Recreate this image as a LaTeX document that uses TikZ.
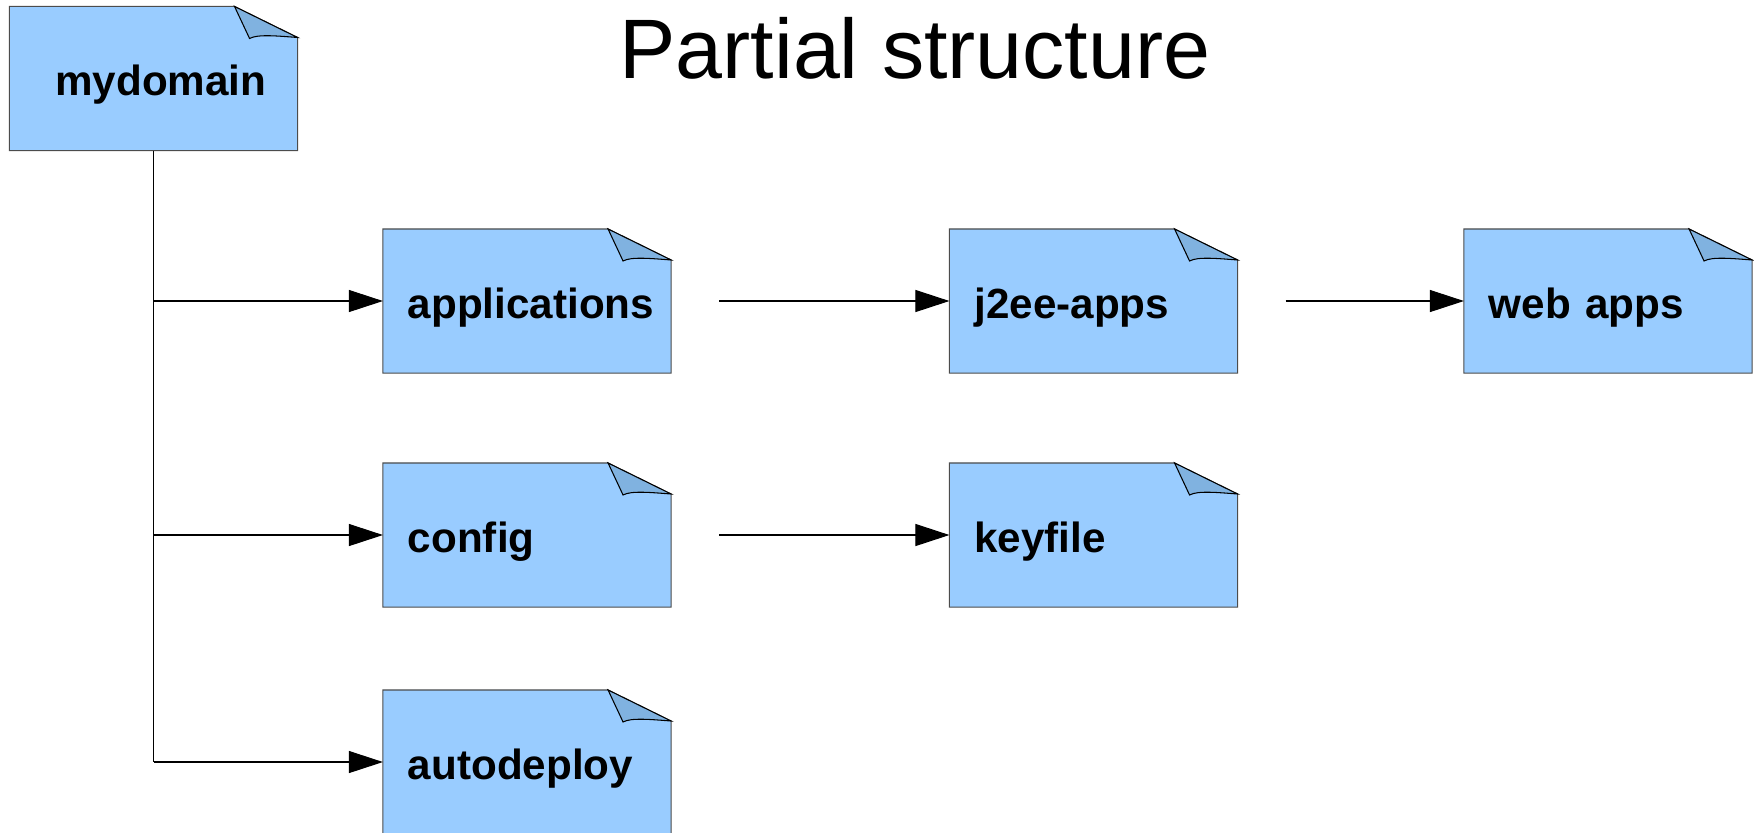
\documentclass[tikz,border=0pt]{standalone}
\usepackage{fontspec}
\setmainfont{Liberation Sans}
\usetikzlibrary{arrows.meta,backgrounds}

\definecolor{boxblue}{RGB}{153,204,255}
\definecolor{foldblue}{RGB}{128,178,224}

\tikzset{
  folder/.style={minimum width=2.88cm, minimum height=1.44cm, outer sep=0pt,
    inner xsep=2.5mm, text width=23.8mm, align=left,
    text height=4.4mm, text depth=1mm, font=\fontsize{12}{14}\selectfont\bfseries},
  link/.style={line width=0.3pt, -{Triangle[length=3.4mm,width=2.2mm]}}
}

\begin{document}
\begin{tikzpicture}[x=0.01cm, y=-0.01cm]
            \useasboundingbox (0,0) rectangle (1754,832);

            \node (title) [anchor=base, font=\fontsize{24}{28}\selectfont] at (915,78) {Partial structure};

            \node (dom) [folder, inner xsep=4.6mm, text width=19.6mm] at (153.5,78.5) {mydomain};
            \node (app) [folder] at (527,301) {applications};
            \node (j2ee) [folder] at (1093.5,301) {j2ee-apps};
            \node (web) [folder] at (1608,301) {web apps};
            \node (cfg) [folder] at (527,535) {config};
            \node (key) [folder] at (1093.5,535) {keyfile};
            \node (auto) [folder] at (527,762) {autodeploy};

            % dog-eared boxes behind the labels
            \begin{scope}[on background layer]
            \foreach \n in {dom,app,j2ee,web,cfg,key,auto} {
                \filldraw[fill=boxblue, draw=black!70, line width=0.3pt]
                (\n.south west) -- (\n.north west) -- ([xshift=-6.3mm]\n.north east)
                -- ([yshift=-3.1mm]\n.north east) -- (\n.south east) -- cycle;
                \filldraw[fill=foldblue, draw=black, line width=0.3pt]
                ([xshift=-6.3mm]\n.north east) -- ([xshift=-4.8mm,yshift=-3.2mm]\n.north east)
                .. controls ([xshift=-4mm,yshift=-2.75mm]\n.north east) and ([xshift=-2mm,yshift=-2.95mm]\n.north east)
                .. ([yshift=-3.1mm]\n.north east) -- cycle;
            }
            \end{scope}

            \draw[line width=0.3pt] (dom.south) -- (dom.south |- auto.west);
            \draw[link] (dom.south |- app.west) -- (app.west);
            \draw[link] (dom.south |- cfg.west) -- (cfg.west);
            \draw[link] (dom.south |- auto.west) -- (auto.west);

            \draw[link] ([xshift=4.8mm]app.east) -- (j2ee.west);
            \draw[link] ([xshift=4.8mm]j2ee.east) -- (web.west);
            \draw[link] ([xshift=4.8mm]cfg.east) -- (key.west);
\end{tikzpicture}
\end{document}
